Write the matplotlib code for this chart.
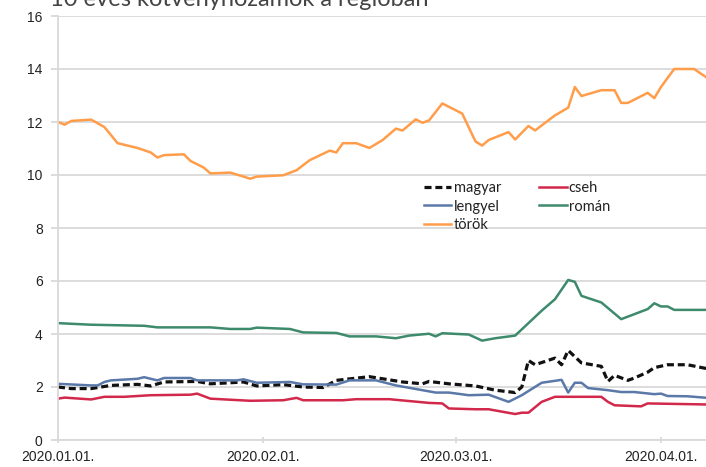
import pandas as pd
import matplotlib.pyplot as plt
import matplotlib.dates as mdates

# data (dates, 10y yields in %)
magyar_dates = ["2020-01-01", "2020-01-03", "2020-01-06", "2020-01-09", "2020-01-13", "2020-01-15",
                "2020-01-17", "2020-01-22", "2020-01-24", "2020-01-27", "2020-01-29", "2020-01-31",
                "2020-02-04", "2020-02-07", "2020-02-10", "2020-02-12", "2020-02-17", "2020-02-19",
                "2020-02-22", "2020-02-25", "2020-02-26", "2020-02-29", "2020-03-04", "2020-03-07",
                "2020-03-10", "2020-03-11", "2020-03-12", "2020-03-13", "2020-03-16", "2020-03-17",
                "2020-03-18", "2020-03-20", "2020-03-23", "2020-03-24", "2020-03-25", "2020-03-27",
                "2020-03-28", "2020-03-30", "2020-03-31", "2020-04-02", "2020-04-05", "2020-04-08"]
magyar = [2.00, 1.94, 1.94, 2.06, 2.10, 2.04,
          2.19, 2.21, 2.12, 2.16, 2.19, 2.04,
          2.09, 2.00, 1.98, 2.25, 2.39, 2.31,
          2.19, 2.12, 2.21, 2.12, 2.04, 1.88,
          1.79, 2.00, 3.00, 2.84, 3.09, 2.84,
          3.38, 2.91, 2.78, 2.21, 2.44, 2.25,
          2.34, 2.56, 2.73, 2.84, 2.84, 2.69]

cseh_dates = ["2020-01-01", "2020-01-02", "2020-01-06", "2020-01-08", "2020-01-11", "2020-01-15",
              "2020-01-21", "2020-01-22", "2020-01-24", "2020-01-30", "2020-02-04", "2020-02-06",
              "2020-02-07", "2020-02-13", "2020-02-15", "2020-02-20", "2020-02-26", "2020-02-28",
              "2020-02-29", "2020-03-04", "2020-03-06", "2020-03-10", "2020-03-11", "2020-03-12",
              "2020-03-14", "2020-03-16", "2020-03-23", "2020-03-24", "2020-03-25", "2020-03-29",
              "2020-03-30", "2020-04-08"]
cseh = [1.56, 1.60, 1.53, 1.63, 1.63, 1.69,
        1.71, 1.75, 1.56, 1.48, 1.50, 1.59,
        1.50, 1.50, 1.54, 1.54, 1.40, 1.38,
        1.19, 1.16, 1.16, 0.98, 1.03, 1.03,
        1.44, 1.63, 1.63, 1.44, 1.31, 1.27,
        1.38, 1.34]

lengyel_dates = ["2020-01-01", "2020-01-06", "2020-01-07", "2020-01-08", "2020-01-09", "2020-01-13",
                 "2020-01-14", "2020-01-16", "2020-01-17", "2020-01-21", "2020-01-22", "2020-01-28",
                 "2020-01-29", "2020-01-31", "2020-02-05", "2020-02-07", "2020-02-12", "2020-02-14",
                 "2020-02-18", "2020-02-21", "2020-02-25", "2020-02-27", "2020-02-29", "2020-03-03",
                 "2020-03-06", "2020-03-09", "2020-03-11", "2020-03-14", "2020-03-17", "2020-03-18",
                 "2020-03-19", "2020-03-20", "2020-03-21", "2020-03-24", "2020-03-26", "2020-03-28",
                 "2020-03-31", "2020-04-01", "2020-04-02", "2020-04-05", "2020-04-08"]
lengyel = [2.12, 2.06, 2.06, 2.19, 2.25, 2.31,
           2.37, 2.25, 2.34, 2.34, 2.25, 2.25,
           2.29, 2.16, 2.19, 2.10, 2.09, 2.25,
           2.25, 2.06, 1.88, 1.79, 1.79, 1.69,
           1.71, 1.44, 1.69, 2.16, 2.27, 1.79,
           2.16, 2.16, 1.96, 1.88, 1.81, 1.81,
           1.73, 1.75, 1.66, 1.65, 1.59]

roman_dates = ["2020-01-01", "2020-01-06", "2020-01-14", "2020-01-16", "2020-01-24", "2020-01-27",
               "2020-01-30", "2020-01-31", "2020-02-05", "2020-02-07", "2020-02-12", "2020-02-14",
               "2020-02-18", "2020-02-21", "2020-02-23", "2020-02-26", "2020-02-27", "2020-02-28",
               "2020-03-03", "2020-03-05", "2020-03-07", "2020-03-10", "2020-03-14", "2020-03-16",
               "2020-03-18", "2020-03-19", "2020-03-20", "2020-03-23", "2020-03-26", "2020-03-30",
               "2020-03-31", "2020-04-01", "2020-04-02", "2020-04-03", "2020-04-08"]
roman = [4.41, 4.35, 4.31, 4.25, 4.25, 4.19,
         4.19, 4.24, 4.19, 4.06, 4.04, 3.91,
         3.91, 3.84, 3.94, 4.01, 3.91, 4.03,
         3.98, 3.75, 3.84, 3.94, 4.88, 5.31,
         6.04, 5.97, 5.44, 5.19, 4.56, 4.94,
         5.16, 5.04, 5.04, 4.91, 4.91]

torok_dates = ["2020-01-01", "2020-01-02", "2020-01-03", "2020-01-06", "2020-01-08", "2020-01-10",
               "2020-01-13", "2020-01-15", "2020-01-16", "2020-01-17", "2020-01-20", "2020-01-21",
               "2020-01-23", "2020-01-24", "2020-01-27", "2020-01-29", "2020-01-30", "2020-01-31",
               "2020-02-04", "2020-02-06", "2020-02-08", "2020-02-11", "2020-02-12", "2020-02-13",
               "2020-02-15", "2020-02-17", "2020-02-19", "2020-02-21", "2020-02-22", "2020-02-24",
               "2020-02-25", "2020-02-26", "2020-02-28", "2020-03-02", "2020-03-04", "2020-03-05",
               "2020-03-06", "2020-03-09", "2020-03-10", "2020-03-12", "2020-03-13", "2020-03-16",
               "2020-03-18", "2020-03-19", "2020-03-20", "2020-03-23", "2020-03-25", "2020-03-26",
               "2020-03-27", "2020-03-30", "2020-03-31", "2020-04-01", "2020-04-03", "2020-04-06",
               "2020-04-08"]
torok = [12.00, 11.90, 12.04, 12.09, 11.81, 11.20,
         11.02, 10.85, 10.66, 10.75, 10.78, 10.53,
         10.28, 10.06, 10.09, 9.94, 9.86, 9.94,
         9.99, 10.18, 10.56, 10.92, 10.85, 11.20,
         11.20, 11.02, 11.32, 11.75, 11.68, 12.10,
         11.97, 12.06, 12.70, 12.32, 11.27, 11.11,
         11.32, 11.62, 11.34, 11.85, 11.68, 12.25,
         12.54, 13.32, 12.98, 13.20, 13.20, 12.72,
         12.72, 13.10, 12.90, 13.32, 14.00, 14.00,
         13.66]

series = [
    ("magyar", magyar_dates, magyar, "#111111", "--"),
    ("cseh", cseh_dates, cseh, "#D2284B", "-"),
    ("lengyel", lengyel_dates, lengyel, "#5A78A8", "-"),
    ("román", roman_dates, roman, "#3E8A6C", "-"),
    ("török", torok_dates, torok, "#FF9D4A", "-"),
]

plt.rcParams["font.family"] = ["Lato", "DejaVu Sans"]

fig = plt.figure(figsize=(7.06, 4.67), dpi=100)
ax = fig.add_axes([58 / 706, 1 - 440 / 467, 1 - 58 / 706, (440 - 16) / 467])

for name, d, v, col, ls in series:
    if ls == "--":
        ax.plot(pd.to_datetime(d), v, color=col, linewidth=2.3, dashes=(2.2, 1.2), label=name)
    else:
        ax.plot(pd.to_datetime(d), v, color=col, linewidth=1.8, label=name)

start = pd.Timestamp("2020-01-01")
ax.set_xlim(start, start + pd.Timedelta(days=97.8))
ax.set_ylim(0, 16)
ax.set_yticks(range(0, 17, 2))
ax.set_xticks(pd.to_datetime(["2020-01-01", "2020-02-01", "2020-03-01", "2020-04-01"]))
ax.xaxis.set_major_formatter(mdates.DateFormatter("%Y.%m.%d."))

ax.grid(axis="y", color="#D9D9D9", linewidth=1.3)
ax.set_axisbelow(True)
for s in ["top", "right"]:
    ax.spines[s].set_visible(False)
ax.spines["left"].set_color("#D9D9D9")
ax.spines["bottom"].set_color("#D9D9D9")
ax.spines["left"].set_linewidth(1.3)
ax.spines["bottom"].set_linewidth(1.3)
ax.tick_params(axis="y", length=5, color="#D9D9D9", width=1.3, labelsize=10, pad=6, labelcolor="#222222")
ax.tick_params(axis="x", length=5, direction="inout", color="#D9D9D9", width=1.3,
               labelsize=10, pad=5, labelcolor="#222222")
for lab in ax.get_yticklabels() + ax.get_xticklabels():
    lab.set_family(["Liberation Sans", "DejaVu Sans"])

handles, labels = ax.get_legend_handles_labels()
order = [0, 2, 4, 1, 3]
leg = ax.legend([handles[i] for i in order], [labels[i] for i in order], ncol=2,
                loc="upper left", bbox_to_anchor=(0.553, 0.627), frameon=False,
                fontsize=10.5, handlelength=1.9, handletextpad=0.15, labelspacing=0.28,
                columnspacing=2.6, borderpad=0)
for t in leg.get_texts():
    t.set_color("#222222")

fig.text(50 / 706, 1.0, "10 éves kötvényhozamok a régióban", fontsize=17,
         color="#444444", va="center", ha="left")

fig.savefig("out.png", dpi=100)
